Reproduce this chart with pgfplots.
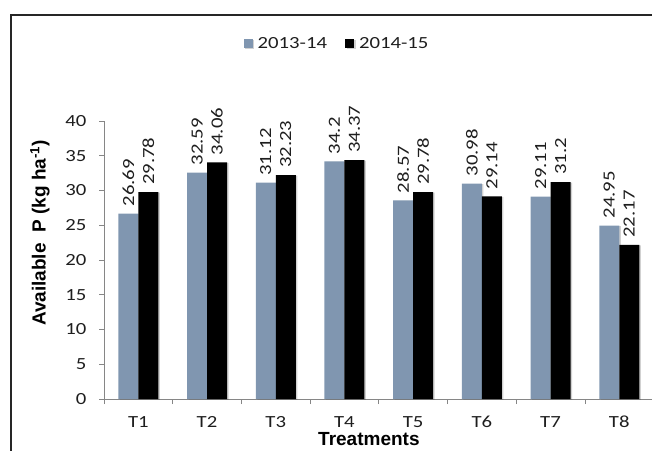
\documentclass[border=0pt]{standalone}
\usepackage{fontspec}
\usepackage{pgfplots}
\pgfplotsset{compat=1.18}
\setmainfont{Carlito}[FakeStretch=1.22]
\newfontfamily\titlefont{Liberation Sans}
\definecolor{barA}{RGB}{128,150,176}
\definecolor{axisgray}{RGB}{134,134,134}
\definecolor{txt}{RGB}{30,30,30}

\pgfplotstableread{
x  y1314  y1415
0  26.69  29.78
1  32.59  34.06
2  31.12  32.23
3  34.2   34.37
4  28.57  29.78
5  30.98  29.14
6  29.11  31.2
7  24.95  22.17
}\availP

\begin{document}
\begin{tikzpicture}[x=1pt,y=1pt]
\path[use as bounding box] (0,0) rectangle (652,450);
\clip (0,0) rectangle (652,450);
% chart frame
\draw[line width=1.8pt, black!85] (11,435) rectangle (700,-20);
\begin{axis}[
  at={(104pt,51pt)}, anchor=south west,
  scale only axis, width=549.6pt, height=278pt,
  xmin=-0.5, xmax=7.5, ymin=0, ymax=40,
  ybar=0pt, bar width=20pt,
  axis x line*=bottom, axis y line*=left,
  axis line style={axisgray, line width=0.8pt, -},
  tick align=outside,
  ytick={0,5,...,40},
  xtick={0,...,7},
  xticklabels={T1,T2,T3,T4,T5,T6,T7,T8},
  minor xtick={-0.5,0.5,...,7.5},
  major x tick style={draw=none},
  minor x tick style={axisgray, line width=0.8pt},
  y tick style={axisgray, line width=0.8pt},
  major tick length=5pt, minor tick length=5pt,
  /pgf/number format/assume math mode=true,
  tick label style={font=\fontsize{17}{19}\selectfont, text=txt},
  yticklabel style={xshift=-9pt},
  xticklabel style={anchor=north, text height=11pt, text depth=0pt, yshift=-9pt},
  xlabel={\titlefont\bfseries Treatments},
  ylabel={\titlefont\bfseries Available\ \ P (kg ha\textsuperscript{-1})},
  label style={font=\fontsize{19}{21}\selectfont, text=black},
  xlabel style={at={(axis description cs:0.482,-0.143)}, anchor=center,
    inner sep=0pt},
  ylabel style={at={(axis description cs:-0.1165,0.597)}, anchor=center},
  nodes near coords,
  every node near coord/.append style={rotate=90, anchor=west,
    inner xsep=7pt, inner ysep=2pt,
    font=\fontsize{17}{19}\selectfont, text=txt},
  legend style={at={(axis description cs:0.424,1.277)}, anchor=center,
    legend columns=2, draw=none, fill=none,
    font=\fontsize{17}{19}\selectfont, text=txt,
    /tikz/every odd column/.append style={column sep=3pt},
    /tikz/every even column/.append style={column sep=16pt}},
  legend image code/.code={\fill[#1] (0pt,-4.5pt) rectangle (9pt,4.5pt);},
  every axis plot/.append style={preaction={fill=black, fill opacity=0.18,
    transform canvas={shift={(1.5pt,-0.5pt)}}}},
]
\addplot[fill=barA, draw=none] table[x=x, y=y1314] {\availP};
\addplot[fill=black, draw=none] table[x=x, y=y1415] {\availP};
\legend{2013-14, 2014-15}
\end{axis}
\end{tikzpicture}
\end{document}
